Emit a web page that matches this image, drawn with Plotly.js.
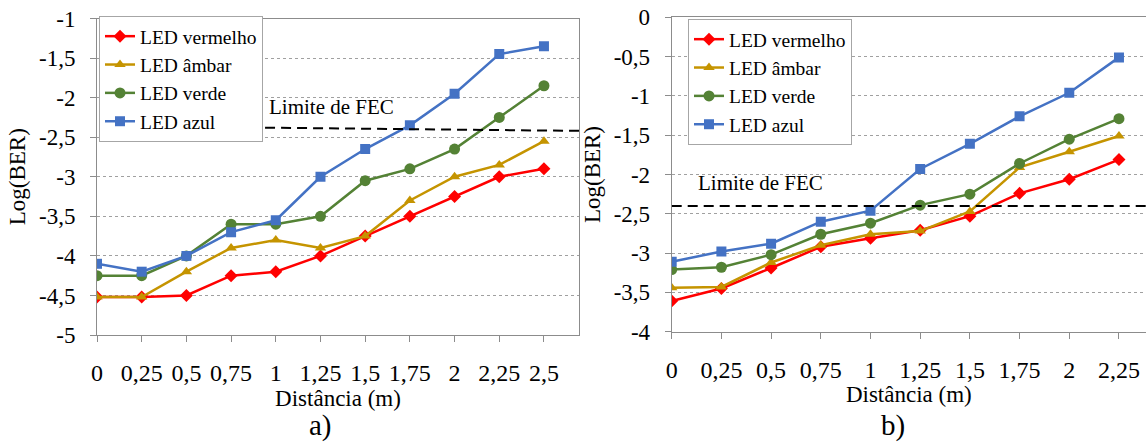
<!DOCTYPE html>
<html>
<head>
<meta charset="utf-8">
<script src="https://cdn.plot.ly/plotly-3.0.1.min.js"></script>
<style>
  html, body { margin: 0; padding: 0; background: #ffffff; }
  #chart { width: 1146px; height: 445px; }
</style>
</head>
<body>
<div id="chart"></div>
<script>
// Distances (m) for the two measurement sets
const distA = [0, 0.25, 0.5, 0.75, 1, 1.25, 1.5, 1.75, 2, 2.25, 2.5];
const distB = [0, 0.25, 0.5, 0.75, 1, 1.25, 1.5, 1.75, 2, 2.25];

// Panel a) Log(BER) per LED colour
const redA   = [-4.52, -4.52, -4.50, -4.25, -4.20, -4.00, -3.75, -3.50, -3.25, -3.00, -2.90];
const amberA = [-4.52, -4.52, -4.20, -3.90, -3.80, -3.90, -3.75, -3.30, -3.00, -2.85, -2.55];
const greenA = [-4.25, -4.25, -4.00, -3.60, -3.60, -3.50, -3.05, -2.90, -2.65, -2.25, -1.85];
const blueA  = [-4.10, -4.20, -4.00, -3.70, -3.55, -3.00, -2.65, -2.35, -1.95, -1.45, -1.35];

// Panel b) Log(BER) per LED colour
const redB   = [-3.61, -3.45, -3.19, -2.92, -2.81, -2.71, -2.53, -2.24, -2.06, -1.81];
const amberB = [-3.44, -3.43, -3.12, -2.90, -2.76, -2.72, -2.47, -1.91, -1.71, -1.51];
const greenB = [-3.21, -3.18, -3.02, -2.76, -2.62, -2.39, -2.25, -1.86, -1.55, -1.29];
const blueB  = [-3.11, -2.98, -2.88, -2.60, -2.46, -1.93, -1.61, -1.26, -0.96, -0.51];

// FEC threshold
const fecLevel = -2.4;
const fecLabel = "Limite de FEC";

// Series names
const seriesNames = ["LED vermelho", "LED âmbar", "LED verde", "LED azul"];

// Tick labels (decimal comma)
const xTickValsA = distA;
const xTickTextA = ["0", "0,25", "0,5", "0,75", "1", "1,25", "1,5", "1,75", "2", "2,25", "2,5"];
const xTickValsB = distB;
const xTickTextB = ["0", "0,25", "0,5", "0,75", "1", "1,25", "1,5", "1,75", "2", "2,25"];
const yTickValsA = [-5, -4.5, -4, -3.5, -3, -2.5, -2, -1.5, -1];
const yTickTextA = ["-5", "-4,5", "-4", "-3,5", "-3", "-2,5", "-2", "-1,5", "-1"];
const yTickValsB = [-4, -3.5, -3, -2.5, -2, -1.5, -1, -0.5, 0];
const yTickTextB = ["-4", "-3,5", "-3", "-2,5", "-2", "-1,5", "-1", "-0,5", "0"];

const colors  = ["#FF0000", "#C59400", "#548235", "#4472C4"];
const symbols = ["diamond", "triangle-up", "circle", "square"];
const sizes   = [10, 10, 11, 10];

const SERIF = "Liberation Serif, Times New Roman, serif";

function series(x, ys, xa, ya, legendId) {
  return ys.map((y, i) => ({
    type: "scatter",
    mode: "lines+markers",
    x: x,
    y: y,
    name: seriesNames[i],
    xaxis: xa,
    yaxis: ya,
    legend: legendId,
    line: { color: colors[i], width: 2.5 },
    marker: { color: colors[i], symbol: symbols[i], size: sizes[i] },
    hoverinfo: "x+y+name"
  }));
}

const traces = [
  ...series(distA, [redA, amberA, greenA, blueA], "x", "y", "legend"),
  ...series(distB, [redB, amberB, greenB, blueB], "x2", "y2", "legend2")
];

const axisCommon = {
  showline: true,
  linecolor: "#8c8c8c",
  linewidth: 1,
  mirror: true,
  ticks: "outside",
  ticklen: 6,
  tickcolor: "#8c8c8c",
  zeroline: false,
  fixedrange: true
};

const xCommon = Object.assign({}, axisCommon, {
  showgrid: false,
  tickfont: { family: SERIF, size: 24, color: "#000" },
  ticklabelstandoff: 10,
  title: { text: "Distância (m)", font: { family: SERIF, size: 23, color: "#000" }, standoff: 4 }
});

const yCommon = Object.assign({}, axisCommon, {
  showgrid: true,
  gridcolor: "#a0a0a0",
  gridwidth: 1,
  griddash: "dot",
  tickfont: { family: SERIF, size: 23, color: "#000" },
  ticklabelstandoff: 10,
  title: { text: "Log(BER)", font: { family: SERIF, size: 23, color: "#000" }, standoff: 6 }
});

const legendCommon = {
  bgcolor: "#ffffff",
  bordercolor: "#a6a6a6",
  borderwidth: 1,
  font: { family: SERIF, size: 19.5, color: "#000" },
  itemwidth: 30,
  tracegroupgap: 0,
  xanchor: "left",
  yanchor: "top"
};

const layout = {
  width: 1146,
  height: 445,
  margin: { l: 0, r: 0, t: 0, b: 0 },
  paper_bgcolor: "#ffffff",
  plot_bgcolor: "#ffffff",
  showlegend: true,
  xaxis: Object.assign({}, xCommon, {
    domain: [97 / 1146, 579 / 1146],
    range: [0, 2.696],
    tickvals: xTickValsA,
    ticktext: xTickTextA,
    anchor: "y"
  }),
  yaxis: Object.assign({}, yCommon, {
    domain: [1 - 335 / 445, 1 - 18.5 / 445],
    range: [-5, -1],
    tickvals: yTickValsA,
    ticktext: yTickTextA,
    anchor: "x"
  }),
  xaxis2: Object.assign({}, xCommon, {
    domain: [671.7 / 1146, 1],
    range: [0, 2.386],
    tickvals: xTickValsB,
    ticktext: xTickTextB,
    anchor: "y2"
  }),
  yaxis2: Object.assign({}, yCommon, {
    domain: [1 - 331.7 / 445, 1 - 17.3 / 445],
    range: [-4, 0],
    tickvals: yTickValsB,
    ticktext: yTickTextB,
    anchor: "x2"
  }),
  legend: Object.assign({}, legendCommon, { x: 99 / 1146, y: 1 - 16 / 445 }),
  legend2: Object.assign({}, legendCommon, { x: 688 / 1146, y: 1 - 19 / 445 }),
  shapes: [
    {
      type: "line", xref: "x", yref: "y",
      x0: 0.94, x1: 2.696, y0: fecLevel + 0.02, y1: fecLevel - 0.02,
      line: { color: "#000000", width: 2, dash: "10px,6px" }
    },
    {
      type: "line", xref: "x2", yref: "y2",
      x0: 0, x1: 2.386, y0: fecLevel, y1: fecLevel,
      line: { color: "#000000", width: 2, dash: "10px,6px" }
    }
  ],
  annotations: [
    {
      text: fecLabel, xref: "x", yref: "y", x: 0.95, y: fecLevel + 0.11,
      xanchor: "left", yanchor: "bottom", showarrow: false,
      font: { family: SERIF, size: 21, color: "#000" }
    },
    {
      text: fecLabel, xref: "x2", yref: "y2", x: 0.12, y: fecLevel + 0.11,
      xanchor: "left", yanchor: "bottom", showarrow: false,
      font: { family: SERIF, size: 21, color: "#000" }
    },
    {
      text: "a)", xref: "paper", yref: "paper", x: 320 / 1146, y: 1 - 444 / 445,
      xanchor: "center", yanchor: "bottom", showarrow: false,
      font: { family: SERIF, size: 29, color: "#000" }
    },
    {
      text: "b)", xref: "paper", yref: "paper", x: 893 / 1146, y: 1 - 444 / 445,
      xanchor: "center", yanchor: "bottom", showarrow: false,
      font: { family: SERIF, size: 29, color: "#000" }
    }
  ]
};

Plotly.newPlot("chart", traces, layout, { displayModeBar: false, staticPlot: false });
</script>
</body>
</html>
